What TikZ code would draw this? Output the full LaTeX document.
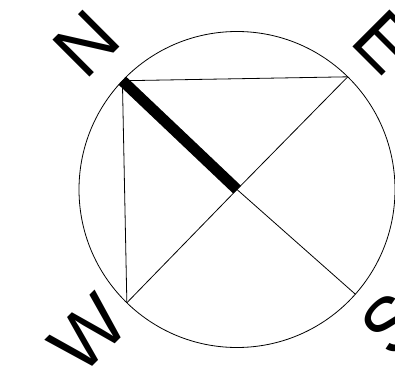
\documentclass[tikz,border=0pt]{standalone}
\usepackage{fontspec}
\setmainfont{Liberation Sans}
\usetikzlibrary{positioning}
\tikzset{
  compass/.style={inner sep=0pt,font=\fontsize{76}{76}\selectfont},
  thinline/.style={line width=0.8pt,black},
  needle/.style={line width=11pt,black,line cap=butt}
}

\begin{document}
\begin{tikzpicture}[x=1pt,y=1pt]
      \useasboundingbox (-237,-179.5) rectangle (158,189.5);
      \coordinate (O) at (0,0);
      \coordinate (ptN) at (136.5:158);
      \coordinate (ptE) at (45.5:158);
      \coordinate (ptW) at (225.8:158);
      \coordinate (ptS) at (-41.5:158);
      \draw[thinline] (O) circle (158);
      \draw[thinline] (ptN)--(ptE);
      \draw[thinline] (ptN)--(ptW);
      \draw[thinline] (ptE)--(O)--(ptW);
      \draw[thinline] (O)--(ptS);
      \draw[needle] (ptN)--(O);
      \node[compass,rotate=45] (lblN) at (136:210) {N};
      \node[compass,rotate=-45] (lblE) at (45:209) {E};
      \node[compass,rotate=45] (lblW) at (224:207) {W};
      \node[compass,rotate=45] (lblS) at (-41:205) {S};
    \end{tikzpicture}
\end{document}
